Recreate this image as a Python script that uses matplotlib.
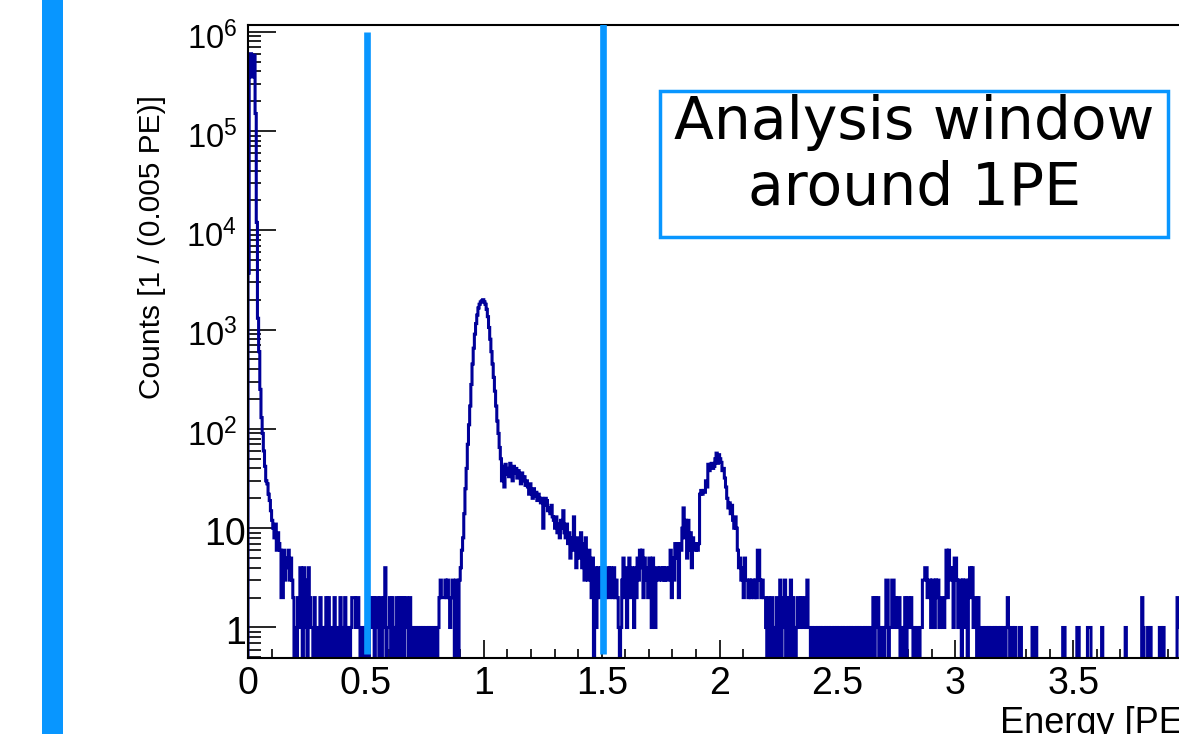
import numpy as np
import matplotlib
matplotlib.use("Agg")
import matplotlib.pyplot as plt
from matplotlib.patches import Rectangle
from matplotlib import ticker, transforms

plt.rcParams['font.family'] = ['Liberation Sans', 'DejaVu Sans']
plt.rcParams['mathtext.fontset'] = 'custom'
plt.rcParams['mathtext.rm'] = 'Liberation Sans'
plt.rcParams['mathtext.it'] = 'Liberation Sans:italic'
# keep every 0/1 flip of the dense step line
plt.rcParams['path.simplify'] = False

#--- histogram, 0.005 PE bins starting at 0
bin_width = 0.005

# bins 0-20 : pedestal
pedestal = [3700, 550000, 600000, 350000, 500000, 580000, 150000, 12000, 1300,
            600, 250, 130, 90, 60, 42, 30, 28, 22, 19, 15, 12]
# bins 21-40
pedestal_tail = [10, 8, 11, 6, 9, 7, 6, 2, 2, 6, 3, 5, 4, 6, 3, 5, 3, 2, 0, 1]
# bins 41-179, one digit per bin
valley_runs = [
    "021",                              # 41
    "4204130421",                       # 44
    "102011020101202100120110201021",   # 54
    "0101",                             # 84
    "222122",                           # 88
    "1011010102",                       # 94
    "2120221020",                       # 104
    "12401",                            # 114
    "120210120",                        # 119
    "2202022102",                       # 128
    "101010",                           # 138
    "101010110101010101",               # 144
    "232223232123203203",               # 162
]
# bins 180-214 : 1PE peak
pe1_peak = [4, 6, 8, 14, 25, 40, 70, 110, 170, 280, 450, 650, 900, 1150, 1400,
            1650, 1800, 1900, 1950, 2000, 1900, 1800, 1600, 1350, 1050, 800,
            600, 450, 330, 240, 170, 120, 90, 65, 50]
# bins 215-316 : shoulder
pe1_shoulder = [30, 42, 26, 44, 35,
                40, 33, 45, 38, 30, 42, 36, 40, 32, 38, 34, 28, 36, 30, 33, 27, 30,
                26, 22, 28, 24, 20, 25, 21, 23, 19, 22, 20,
                18, 20, 10, 17, 20, 19, 15, 16, 14, 17, 13,
                12, 10, 13, 9, 11, 8, 12, 10, 15, 9, 8, 11,
                7, 9, 5, 8, 6, 13, 7, 4, 8, 6, 5,
                9, 4, 7, 3, 8, 5, 3, 6,
                4, 2, 5, 0, 4, 1,
                3, 4, 2, 4, 3, 2, 4, 2, 3, 4, 2, 4, 3, 2, 4, 2, 3,
                2, 1, 0, 1]
# bins 317-450 : 2PE peak
pe2_peak = [3, 5, 2, 4, 1, 3, 5, 2, 4, 3, 1, 4, 2, 5, 3, 6,
            4, 6, 2, 5, 3, 4, 2, 5,
            4, 1, 5, 3, 1, 4,
            4, 3, 4, 4, 3, 4, 3, 4, 3, 3, 4,
            6, 2, 5, 3,
            7, 5, 7, 2, 7, 6,
            10, 16, 8, 12, 5,
            12, 6, 9, 4, 8,
            7, 6, 7, 6, 7,
            22, 24, 22, 24, 23,
            30, 26, 44,
            38, 44, 45, 40, 42,
            50, 57, 45, 55,
            50, 46, 38, 40,
            32, 26, 20, 16, 18,
            14, 17, 12, 10, 13, 10,
            6, 4,
            5, 3, 4, 2, 5, 3,
            3, 2, 3, 2, 3, 3, 2, 3, 2,
            6, 6,
            3, 2, 3, 2,
            2, 1, 0, 2, 1, 0, 2, 1, 0, 1, 2, 0, 1]
# bins 451-799, one digit per bin
tail_runs = [
    "3021302013021012",                 # 451
    "212112131",                        # 467
    "10101101010110101011010101",       # 476
    "1010110101011010101101010110",     # 502
    "20212010",                         # 530
    "101330113312122010",               # 538
    "1202212",                          # 556
    "101011011",                        # 563
    "334423",                           # 572
    "313313231",                        # 578
    "22112",                            # 587
    "62643415531330313203424122020",    # 592
    "01101101011010110101101",          # 621
    "2101",                             # 644
    "101000110",                        # 648
    "0000000010010000000000000000000000",  # 657
    "11",                               # 691
    "0000000000",                       # 693
    "110",                              # 703
    "000000",                           # 706
    "1110",                             # 712
    "00000000",                         # 716
    "100",                              # 724
    "0000000000000000",                 # 727
    "0100",                             # 743
    "0000000000",                       # 747
    "0210",                             # 757
    "00",                               # 761
    "10100",                            # 763
    "00000",                            # 768
    "110100",                           # 773
    "000000000",                        # 779
    "211212121212",                     # 788
]

window_cuts = [0.506, 1.506]
window_tops = [1e6, 2e6]
window_bottom = 0.54

x_major = [0, 0.5, 1, 1.5, 2, 2.5, 3, 3.5]
y_major = [1, 10, 1e2, 1e3, 1e4, 1e5, 1e6]
y_tick_labels = ["1", "10", "$10^{2}$", "$10^{3}$", "$10^{4}$", "$10^{5}$", "$10^{6}$"]

hist_color = '#000099'
window_color = '#0896ff'

#--- build the counts
counts = pedestal + pedestal_tail
counts += [int(c) for c in "".join(valley_runs)]
counts += pe1_peak + pe1_shoulder + pe2_peak
counts += [int(c) for c in "".join(tail_runs)]
counts = np.array(counts, dtype=float)
edges = np.arange(len(counts) + 1) * bin_width
# empty bins drop to the bottom of the log frame
draw_counts = np.where(counts > 0, counts, 1e-3)

W, H = 1179, 734
fig = plt.figure(figsize=(W / 100, H / 100), dpi=100)
ax = fig.add_axes([248 / W, 1 - 658 / H, 943.2 / W, 633 / H])

ax.stairs(draw_counts, edges, color=hist_color, lw=2.2, baseline=1e-3, zorder=2)
for x, top in zip(window_cuts, window_tops):
    ax.plot([x, x], [window_bottom, top], color=window_color, lw=4.8,
            solid_capstyle='butt', zorder=3)

ax.set_yscale('log')
ax.set_xlim(0, 4)
ax.set_ylim(0.493, 1.168e6)

ax.xaxis.set_major_locator(ticker.FixedLocator(x_major))
ax.xaxis.set_minor_locator(ticker.MultipleLocator(0.1))
ax.xaxis.set_major_formatter(ticker.FuncFormatter(lambda v, p: '%g' % v))
ax.yaxis.set_major_locator(ticker.FixedLocator(y_major))
ax.yaxis.set_minor_locator(ticker.LogLocator(base=10, subs=np.arange(2, 10)))
ax.yaxis.set_major_formatter(ticker.NullFormatter())
ax.yaxis.set_minor_formatter(ticker.NullFormatter())

ax.tick_params(axis='x', which='major', direction='in', length=13, width=1.2,
               labelsize=27, pad=6)
ax.tick_params(axis='x', which='minor', direction='in', length=6.5, width=1.2)
ax.tick_params(axis='y', which='major', direction='in', length=20, width=1.2)
ax.tick_params(axis='y', which='minor', direction='in', length=9.5, width=1.2)
for s in ax.spines.values():
    s.set_linewidth(1.5)

# y labels drawn by hand: plain numbers sit closer to the axis than 10^n
base = transforms.blended_transform_factory(ax.transAxes, ax.transData)
for v, lab in zip(y_major, y_tick_labels):
    if lab.startswith('$'):
        dx, fs = -11, 23.5
    else:
        dx, fs = -2, 27
    tr = base + transforms.ScaledTranslation(dx / 100, -17 / 100, fig.dpi_scale_trans)
    ax.text(0, v, lab, transform=tr, ha='right', va='baseline', fontsize=fs,
            clip_on=False)

fig.text(152 / W, 1 - 95 / H, "Counts [1 / (0.005 PE)]", rotation=90,
         ha='center', va='top', fontsize=21.5)
fig.text(1000 / W, 1 - 733 / H, "Energy [PE]", ha='left', va='baseline',
         fontsize=26)

# side bar
fig.add_artist(Rectangle((42 / W, 0), 21 / W, 1, transform=fig.transFigure,
                         facecolor=window_color, edgecolor='none'))
# label box
fig.add_artist(Rectangle((660 / W, 1 - 237 / H), 508 / W, 146 / H,
                         transform=fig.transFigure, facecolor='white',
                         edgecolor=window_color, lw=2.5, zorder=5))
fig.text(914 / W, 1 - 139 / H, "Analysis window", ha='center', va='baseline',
         fontsize=42, family='DejaVu Sans', zorder=6)
fig.text(914 / W, 1 - 205 / H, "around 1PE", ha='center', va='baseline',
         fontsize=42, family='DejaVu Sans', zorder=6)

fig.savefig('out.png', dpi=100)
